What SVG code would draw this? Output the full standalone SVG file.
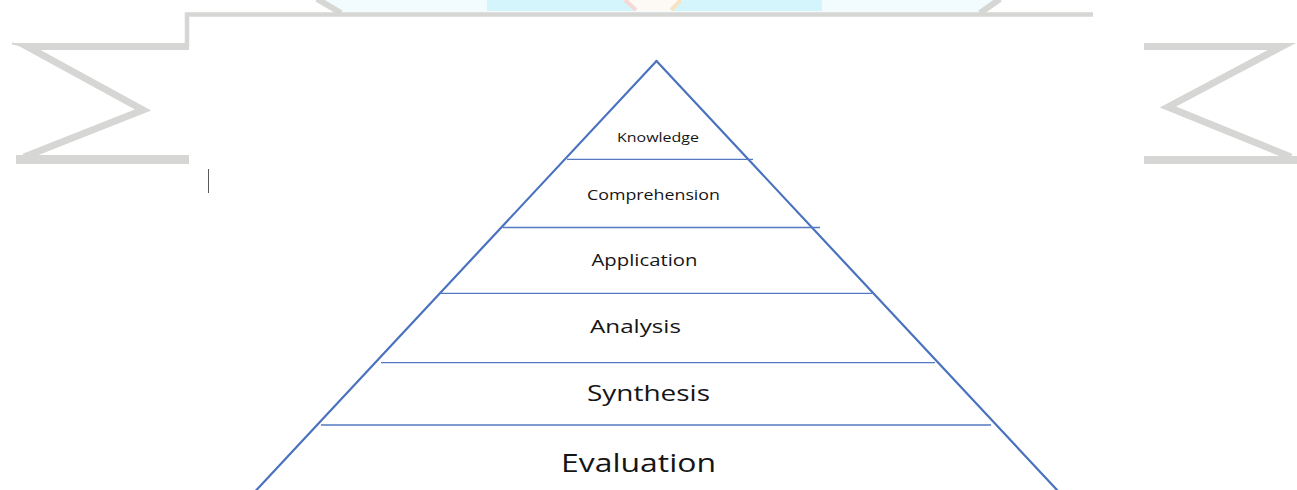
<svg xmlns="http://www.w3.org/2000/svg" width="1297" height="490" viewBox="0 0 1297 490">
  <style>
    .wm { fill: none; stroke: #d6d6d4; stroke-linejoin: miter; stroke-miterlimit: 5; }
    .wm-fill { fill: #d6d6d4; }
    .side { stroke: #4a72be; stroke-width: 2.2; fill: none; stroke-linecap: round; }
    .divider { stroke: #5479c2; stroke-width: 1.3; }
    .label { font-family: "Open Sans", "Noto Sans", sans-serif; fill: #151515; }
  </style>

  <rect x="0" y="0" width="1297" height="490" fill="#ffffff"/>

  <!-- background watermark -->
  <g id="watermark">
    <!-- top band -->
    <polygon points="317,0 1000,0 980,12.5 343,12.5" fill="#f2fbfd"/>
    <rect x="487" y="0" width="335" height="11" fill="#d4f5fb"/>
    <polygon points="623,0 683,0 672,11 635,11" fill="#fdfaf6"/>
    <line x1="625" y1="0" x2="636" y2="10" stroke="#f4d9d6" stroke-width="4"/>
    <line x1="681" y1="0" x2="671" y2="10" stroke="#f7e3c6" stroke-width="4"/>
    <line x1="317" y1="-1" x2="341" y2="13" stroke="#d6d6d4" stroke-width="6"/>
    <line x1="1000" y1="-1" x2="980" y2="13" stroke="#d6d6d4" stroke-width="6"/>
    <!-- top border with step -->
    <polyline class="wm" stroke-width="4.5" points="187,47 187,14.5 1093,14.5"/>
    <!-- left sigma -->
    <polyline class="wm" stroke-width="7" stroke-miterlimit="2" points="189,46.5 27,46.5 143,110 24,157"/>
    <line x1="27" y1="46.5" x2="12" y2="43.5" stroke="#d6d6d4" stroke-width="2"/>
    <rect class="wm-fill" x="16" y="155" width="173" height="9"/>
    <!-- right sigma -->
    <polyline class="wm" stroke-width="7" stroke-miterlimit="2" points="1144,46.5 1282,46.5 1168,107 1291,157"/>
    <rect class="wm-fill" x="1144" y="156" width="153" height="8"/>
  </g>

  <!-- text cursor -->
  <line x1="208.5" y1="169" x2="208.5" y2="193" stroke="#5a5a5a" stroke-width="1"/>

  <!-- pyramid outline -->
  <g id="pyramid-outline">
    <line class="side" x1="656.5" y1="61" x2="254.6" y2="492"/>
    <line class="side" x1="656.5" y1="61" x2="1058.9" y2="492"/>
  </g>

  <!-- tiers, top to bottom -->
  <g id="tier-knowledge">
    <line class="divider" x1="567" y1="159.3" x2="753" y2="159.3"/>
    <text class="label" x="617" y="142" font-size="12.5" textLength="82" lengthAdjust="spacingAndGlyphs">Knowledge</text>
  </g>
  <g id="tier-comprehension">
    <line class="divider" x1="503" y1="227.5" x2="820" y2="227.5"/>
    <text class="label" x="587" y="199.5" font-size="14" textLength="133" lengthAdjust="spacingAndGlyphs">Comprehension</text>
  </g>
  <g id="tier-application">
    <line class="divider" x1="441" y1="293.3" x2="874" y2="293.3"/>
    <text class="label" x="591.5" y="265.5" font-size="17" textLength="106" lengthAdjust="spacingAndGlyphs">Application</text>
  </g>
  <g id="tier-analysis">
    <line class="divider" x1="381" y1="362.7" x2="935" y2="362.7"/>
    <text class="label" x="590" y="333" font-size="19" textLength="91" lengthAdjust="spacingAndGlyphs">Analysis</text>
  </g>
  <g id="tier-synthesis">
    <line class="divider" x1="321" y1="425" x2="991" y2="425"/>
    <text class="label" x="587" y="401" font-size="22" textLength="123" lengthAdjust="spacingAndGlyphs">Synthesis</text>
  </g>
  <g id="tier-evaluation">
    <text class="label" x="561" y="472" font-size="26" textLength="155" lengthAdjust="spacingAndGlyphs">Evaluation</text>
  </g>

  <g id="connectors"/>
</svg>
